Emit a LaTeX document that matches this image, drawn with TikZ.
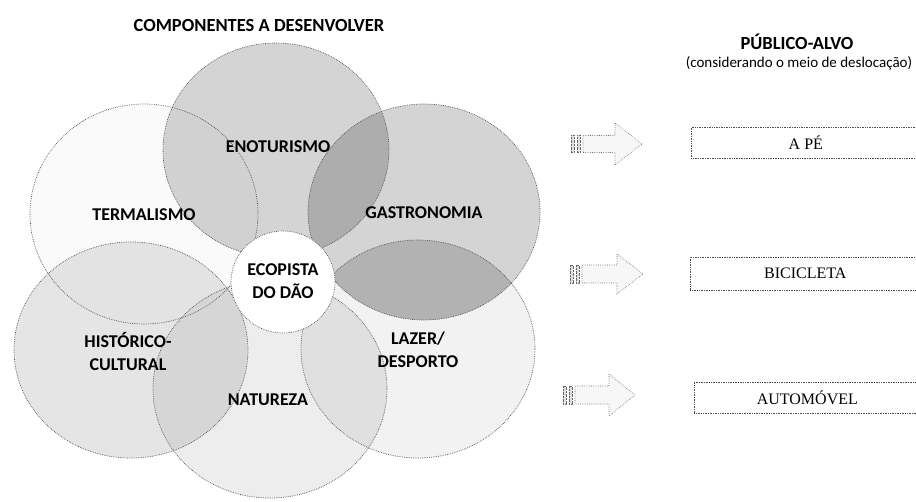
\documentclass[tikz,border=0pt]{standalone}
\usepackage{fontspec}
\setmainfont{Liberation Serif}
\newfontfamily\carlito{Carlito}
\begin{document}
\begin{tikzpicture}[x=1pt,y=-1pt,
  zone/.style={draw=black!70, dash pattern=on 0.7pt off 1.1pt, line width=0.7pt},
  zlbl/.style={font=\carlito\bfseries\fontsize{18}{23}\selectfont, align=center, inner sep=0pt},
  head/.style={font=\carlito\bfseries\fontsize{18.5}{22}\selectfont, inner sep=0pt},
  sub/.style={font=\carlito\fontsize{15}{18}\selectfont, inner sep=0pt},
  pbox/.style={draw=black!70, dash pattern=on 0.7pt off 1pt, line width=0.7pt, font=\fontsize{16}{19}\selectfont, inner sep=0pt, anchor=west},
  barrow/.style={draw=black!60, dash pattern=on 0.6pt off 1.2pt, line width=0.6pt, fill=black!3},
  stripe/.style={draw=black!60, dash pattern=on 0.6pt off 0.8pt, line width=0.6pt, fill=black!12}
]
\useasboundingbox (0,0) rectangle (916,502);
\fill[white] (0,0) rectangle (916,502);

\def\termC{(144,214) ellipse [x radius=114, y radius=110]}
\def\histC{(131,350) ellipse [x radius=117, y radius=108]}
\def\natC{(270,389) ellipse [x radius=117, y radius=109]}
\def\lazC{(418,349) ellipse [x radius=117, y radius=109]}
\def\enoC{(276,150) ellipse [x radius=113, y radius=107]}
\def\gasC{(424,212) ellipse [x radius=116, y radius=108]}

% ---- fills of the six components ----
\fill[black!2] \termC;
\fill[black!10] \histC;
\fill[black!7] \natC;
\fill[black!5] \lazC;
\fill[black!17] \enoC;
\fill[black!17] \gasC;

% overlaps
\begin{scope}\clip \termC; \fill[black!11] \histC; \end{scope}
\begin{scope}\clip \histC; \fill[black!16] \natC; \end{scope}
\begin{scope}\clip \natC; \fill[black!12] \lazC; \end{scope}
\begin{scope}\clip \termC; \fill[black!18] \enoC; \end{scope}
\begin{scope}\clip \enoC; \fill[black!32] \gasC; \end{scope}
\begin{scope}\clip \lazC; \fill[black!30] \gasC; \end{scope}

% ---- outlines ----
\draw[zone] \termC;
\draw[zone] \histC;
\draw[zone] \natC;
\draw[zone] \lazC;
\draw[zone] \enoC;
\draw[zone] \gasC;

% ---- centre ----
\fill[white] (283,282) ellipse [x radius=52, y radius=51];
\draw[zone] (283,282) ellipse [x radius=52, y radius=51];

% ---- labels ----
\node[head] (titulo) at (259,26) {COMPONENTES A DESENVOLVER};
\node[zlbl] (eno) at (278,147) {ENOTURISMO};
\node[zlbl] (term) at (144,215) {TERMALISMO};
\node[zlbl] (gast) at (424,213) {GASTRONOMIA};
\node[zlbl] (eco) at (283,281) {ECOPISTA\\DO DÃO};
\node[zlbl] (hist) at (128,352) {HISTÓRICO-\\CULTURAL};
\node[zlbl] (lazer) at (418,350) {LAZER/\\DESPORTO};
\node[zlbl] (nat) at (268,400) {NATUREZA};

% ---- right side ----
\node[head] (publico) at (797,42) {PÚBLICO-ALVO};
\node[sub] (consid) at (799,63) {(considerando o meio de deslocação)};

\node[pbox, minimum width=229, minimum height=31] (ape) at (691,142.5) {A PÉ};
\node[pbox, minimum width=230, minimum height=33] (bici) at (690,273.5) {BICICLETA};
\node[pbox, minimum width=226, minimum height=31] (auto) at (694,397.5) {AUTOMÓVEL};

% block arrows
\draw[barrow] (583,135.5) -- (615,135.5) -- (615,123) -- (642,144) -- (615,165) -- (615,152.5) -- (583,152.5) -- cycle;
\draw[stripe] (571,135.5) rectangle (574,152.5);
\draw[stripe] (577,135.5) rectangle (580,152.5);

\draw[barrow] (582,265) -- (617,265) -- (617,254) -- (643,274) -- (617,294) -- (617,283) -- (582,283) -- cycle;
\draw[stripe] (570,265) rectangle (573,283);
\draw[stripe] (576,265) rectangle (579,283);

\draw[barrow] (575,386) -- (609,386) -- (609,374) -- (635,395) -- (609,416) -- (609,404) -- (575,404) -- cycle;
\draw[stripe] (563,386) rectangle (566,404);
\draw[stripe] (569,386) rectangle (572,404);
\end{tikzpicture}
\end{document}
